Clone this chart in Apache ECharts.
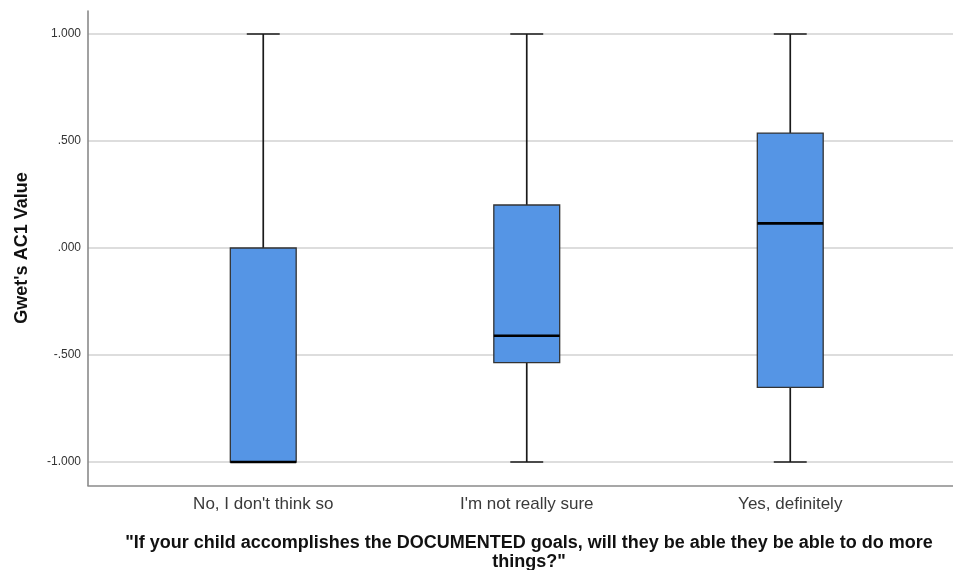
<!DOCTYPE html>
<html>
<head>
<meta charset="utf-8">
<script src="https://cdn.jsdelivr.net/npm/echarts@6/dist/echarts.min.js"></script>
<style>
html,body{margin:0;padding:0;background:#fff;}
#chart{width:953px;height:570px;}
</style>
</head>
<body>
<div id="chart"></div>
<script>
// ---- data ----
var categories = ["No, I don't think so", "I'm not really sure", "Yes, definitely"];
var whiskerLow  = [-1.000, -1.000, -1.000];
var q1Values    = [-1.000, -0.536, -0.651];
var medians     = [-1.000, -0.410,  0.115];
var q3Values    = [ 0.000,  0.201,  0.537];
var whiskerHigh = [ 1.000,  1.000,  1.000];
var yTickValues = [-1, -0.5, 0, 0.5, 1];
var yTickLabels = ["-1.000", "-.500", ".000", ".500", "1.000"];
var yTitle = "Gwet's AC1 Value";
var xTitle = "\"If your child accomplishes the DOCUMENTED goals, will they be able they be able to do more\nthings?\"";

var FONT = "'Liberation Sans', Arial, sans-serif";

var boxData = categories.map(function (c, i) {
  return [i, whiskerLow[i], q1Values[i], medians[i], q3Values[i], whiskerHigh[i]];
});

function renderBox(params, api) {
  var idx = api.value(0);
  var band = api.size([1, 0])[0];
  var boxHalf = band * 0.125;
  var capHalf = band * 0.0625;
  var pMin = api.coord([idx, api.value(1)]);
  var pQ1 = api.coord([idx, api.value(2)]);
  var pMed = api.coord([idx, api.value(3)]);
  var pQ3 = api.coord([idx, api.value(4)]);
  var pMax = api.coord([idx, api.value(5)]);
  var cx = pMed[0];
  var wStyle = {stroke: '#1a1a1a', lineWidth: 1.7};
  var children = [];
  // whiskers
  children.push({type: 'line', shape: {x1: cx, y1: pMax[1], x2: cx, y2: pQ3[1]}, style: wStyle});
  children.push({type: 'line', shape: {x1: cx, y1: pQ1[1], x2: cx, y2: pMin[1]}, style: wStyle});
  children.push({type: 'line', shape: {x1: cx - capHalf, y1: pMax[1], x2: cx + capHalf, y2: pMax[1]}, style: wStyle});
  children.push({type: 'line', shape: {x1: cx - capHalf, y1: pMin[1], x2: cx + capHalf, y2: pMin[1]}, style: wStyle});
  // box
  children.push({type: 'rect', shape: {x: cx - boxHalf, y: pQ3[1], width: boxHalf * 2, height: pQ1[1] - pQ3[1]},
    style: {fill: '#5595E5', stroke: '#333333', lineWidth: 1.3}});
  // median
  children.push({type: 'line', shape: {x1: cx - boxHalf, y1: pMed[1], x2: cx + boxHalf, y2: pMed[1]},
    style: {stroke: '#000000', lineWidth: 2.6}});
  return {type: 'group', children: children};
}

var chart = echarts.init(document.getElementById('chart'), null, {renderer: 'canvas'});
var option = {
  backgroundColor: '#ffffff',
  animation: false,
  title: {
    text: xTitle,
    left: 524,
    top: 529,
    textAlign: 'center',
    textStyle: {fontFamily: FONT, fontSize: 18, fontWeight: 'bold', color: '#111', lineHeight: 19}
  },
  grid: [
    {left: 88, right: 0, top: 11, bottom: 84.5},
    {left: 88, right: 0, top: 34, bottom: 108},
    {left: 131.5, right: 31, top: 34, bottom: 108}
  ],
  xAxis: [
    {gridIndex: 0, type: 'value', min: 0, max: 1,
      axisLine: {show: true, lineStyle: {color: '#8a8a8a', width: 1.6}},
      axisTick: {show: false}, axisLabel: {show: false}, splitLine: {show: false}},
    {gridIndex: 1, type: 'value', min: 0, max: 1, show: false},
    {gridIndex: 2, type: 'category', data: categories, boundaryGap: true,
      axisLine: {show: false}, axisTick: {show: false}, splitLine: {show: false},
      axisLabel: {margin: 34, fontFamily: FONT, fontSize: 17, color: '#3a3a3a'}}
  ],
  yAxis: [
    {gridIndex: 0, type: 'value', min: 0, max: 1,
      axisLine: {show: true, lineStyle: {color: '#8a8a8a', width: 1.6}},
      axisTick: {show: false}, axisLabel: {show: false}, splitLine: {show: false}},
    {gridIndex: 1, type: 'value', min: -1, max: 1, interval: 0.5,
      axisLine: {show: false}, axisTick: {show: false},
      splitLine: {show: true, lineStyle: {color: '#d2d2d2', width: 1.6}},
      axisLabel: {margin: 7, fontFamily: FONT, fontSize: 12, color: '#333',
        formatter: function (v) {
          for (var i = 0; i < yTickValues.length; i++) {
            if (Math.abs(yTickValues[i] - v) < 1e-9) return yTickLabels[i];
          }
          return '';
        }},
      name: yTitle, nameLocation: 'middle', nameRotate: 90, nameGap: 57,
      nameTextStyle: {fontFamily: FONT, fontSize: 18, fontWeight: 'bold', color: '#111'}},
    {gridIndex: 2, type: 'value', min: -1, max: 1, show: false}
  ],
  series: [{
    type: 'custom',
    xAxisIndex: 2,
    yAxisIndex: 2,
    renderItem: renderBox,
    encode: {x: 0, y: [1, 2, 3, 4, 5]},
    data: boxData,
    z: 5
  }]
};
chart.setOption(option);
</script>
</body>
</html>
